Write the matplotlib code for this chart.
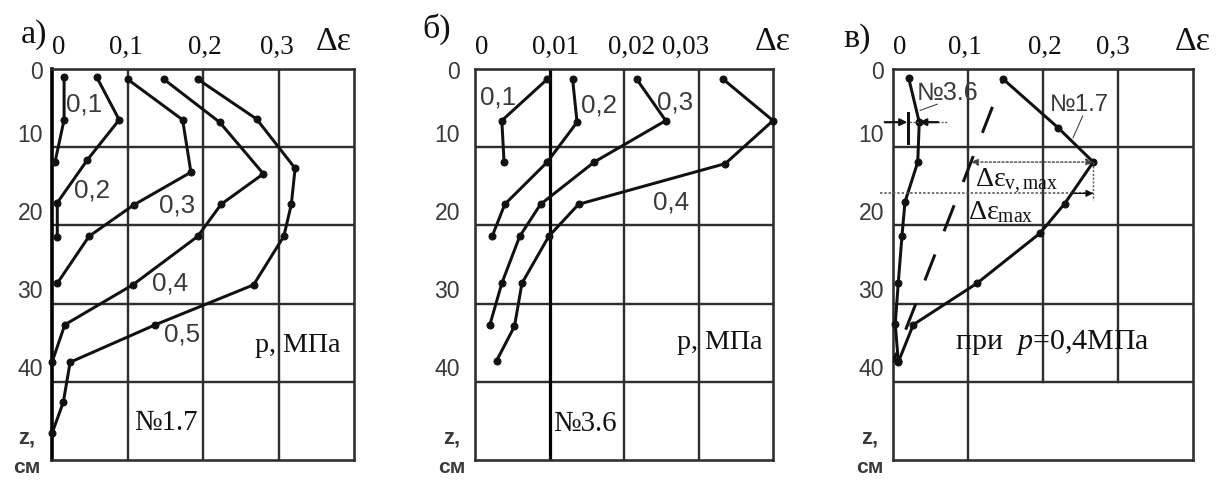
import matplotlib
matplotlib.use("Agg")
import matplotlib.pyplot as plt
from matplotlib.transforms import blended_transform_factory, offset_copy

W, H, DPI = 1222, 484, 72          # at 72 dpi one point equals one pixel
SERIF = ["Liberation Serif", "DejaVu Serif"]
SANS = ["Liberation Sans", "DejaVu Sans"]
INK = "#111111"
GRID = "#2e2e2e"
SOFT = "#3a3a3a"

plt.rcParams["mathtext.fontset"] = "custom"
plt.rcParams["mathtext.rm"] = "Liberation Serif"
plt.rcParams["mathtext.it"] = "Liberation Serif:italic"

# ---------------- common scales ----------------
depth_ticks = [0, 10, 20, 30, 40]
depth_labels = ["0", "10", "20", "30", "40"]

# ---------------- a) specimen №1.7 ----------------
a_xticks = [0, 0.1, 0.2, 0.3]
a_xlabels = ["0", "0,1", "0,2", "0,3"]
a_pressures = ["0,1", "0,2", "0,3", "0,4", "0,5"]
a_z_01 = [1.0, 6.5, 11.9]
a_de_01 = [0.016, 0.016, 0.004]
a_z_02 = [1.0, 6.5, 11.6, 17.1, 21.5]
a_de_02 = [0.059, 0.089, 0.047, 0.007, 0.007]
a_z_03 = [1.3, 6.5, 13.2, 17.4, 21.4, 27.4]
a_de_03 = [0.100, 0.173, 0.184, 0.108, 0.049, 0.007]
a_z_04 = [1.3, 6.8, 13.4, 17.3, 21.4, 27.6, 32.7, 37.5]
a_de_04 = [0.148, 0.222, 0.280, 0.224, 0.193, 0.107, 0.017, 0.0]
a_z_05 = [1.3, 6.4, 12.7, 17.3, 21.4, 27.6, 32.7, 37.5, 42.6, 46.6]
a_de_05 = [0.193, 0.271, 0.322, 0.317, 0.307, 0.267, 0.137, 0.024, 0.015, 0.0]

# ---------------- б) specimen №3.6 ----------------
b_xticks = [0, 0.01, 0.02, 0.03]
b_xlabels = ["0", "0,01", "0,02", "0,03"]
b_pressures = ["0,1", "0,2", "0,3", "0,4"]
b_z_01 = [1.3, 6.6, 11.9]
b_de_01 = [0.0097, 0.0036, 0.0039]
b_z_02 = [1.3, 6.8, 11.9, 17.3, 21.4]
b_de_02 = [0.0131, 0.0137, 0.0097, 0.0040, 0.0023]
b_z_03 = [1.3, 6.6, 11.9, 17.3, 21.4, 27.4, 32.7]
b_de_03 = [0.0217, 0.0256, 0.0160, 0.0088, 0.0060, 0.0036, 0.0020]
b_z_04 = [1.3, 6.6, 12.1, 17.3, 21.4, 27.4, 32.9, 37.3]
b_de_04 = [0.0333, 0.0400, 0.0336, 0.0139, 0.0099, 0.0063, 0.0053, 0.0029]

# ---------------- в) both specimens at p = 0,4 MPa ----------------
c_xticks = [0, 0.1, 0.2, 0.3]
c_xlabels = ["0", "0,1", "0,2", "0,3"]
c_z_17 = [1.3, 7.5, 11.9, 17.2, 21.0, 27.4, 32.7, 37.5]
c_de_17 = [0.147, 0.220, 0.267, 0.229, 0.196, 0.112, 0.027, 0.007]
c_z_36 = [1.2, 6.8, 11.9, 17.0, 21.3, 27.4, 32.6, 37.3]
c_de_36 = [0.021, 0.035, 0.033, 0.016, 0.012, 0.007, 0.003, 0.007]
c_env_z = [1.3, 37.5]
c_env_de = [0.147, 0.0]

fig = plt.figure(figsize=(W / DPI, H / DPI), dpi=DPI)
fig.patch.set_facecolor("white")


def make_axes(left_px, width_px):
    return fig.add_axes([left_px / W, (H - 460) / H, width_px / W, 391 / H])


def shifted(trans, dx=0, dy=0):
    return offset_copy(trans, fig=fig, x=dx, y=dy, units="points")


def frame(ax, xmax, vgrid, stops=None, strong=(), left_strong=False):
    ax.set_xlim(0, xmax)
    ax.set_ylim(50, 0)
    ax.set_xticks([])
    ax.set_yticks([])
    for name, s in ax.spines.items():
        s.set_linewidth(2.6)
        s.set_color(GRID)
        s.set_zorder(2)
    if left_strong:
        ax.spines["left"].set_linewidth(3.6)
        ax.spines["left"].set_color("black")
    for z in depth_ticks[1:]:
        ax.axhline(z, color=GRID, lw=2.4, zorder=1)
    for x in vgrid:
        bottom = stops.get(x, 50) if stops else 50
        if x in strong:
            ax.plot([x, x], [0, bottom], color="black", lw=3.2, zorder=1)
        else:
            ax.plot([x, x], [0, bottom], color=GRID, lw=2.4, zorder=1)


def top_labels(ax, ticks, labels, nudges, de_dx):
    tr = blended_transform_factory(ax.transData, ax.transAxes)
    for v, lab, dx in zip(ticks, labels, nudges):
        ax.text(v, 1.0, lab, transform=shifted(tr, dx, 15), ha="center",
                va="baseline", fontsize=27, family=SERIF, color=INK)
    ax.text(1.0, 1.0, "Δε", transform=shifted(ax.transAxes, de_dx, 19),
            ha="center", va="baseline", fontsize=34, family=SERIF, color=INK)


def depth_labels_left(ax, pad, zlab_dx):
    tr = blended_transform_factory(ax.transAxes, ax.transData)
    for z, lab in zip(depth_ticks, depth_labels):
        dy = -4 if z == 0 else 12
        ax.text(0, z, lab, transform=shifted(tr, pad, dy), ha="right",
                va="center", fontsize=23, family=SANS, color=SOFT)
    ax.text(0, 47.2, "z,", transform=shifted(tr, zlab_dx, 0), ha="center",
            va="center", fontsize=22, family=SANS, color=SOFT,
            fontweight="bold")
    ax.text(0, 51.0, "см", transform=shifted(tr, zlab_dx, 0), ha="center",
            va="center", fontsize=21, family=SANS, color=SOFT,
            fontweight="bold", clip_on=False)


def curve(ax, de, z):
    ax.plot(de, z, "-o", color=INK, lw=3, ms=7, clip_on=False, zorder=4)


# ======================= a) =======================
ax_a = make_axes(52, 302)
frame(ax_a, 0.4, [0.1, 0.2, 0.3], left_strong=True)
top_labels(ax_a, a_xticks, a_xlabels, [7, -2, 2, -2], -20)
depth_labels_left(ax_a, -9, -25)
for de, z in [(a_de_01, a_z_01), (a_de_02, a_z_02), (a_de_03, a_z_03),
              (a_de_04, a_z_04), (a_de_05, a_z_05)]:
    curve(ax_a, de, z)
for lab, (x, z) in zip(a_pressures, [(0.042, 4.6), (0.053, 15.5), (0.165, 17.4),
                                     (0.157, 27.4), (0.172, 34.0)]):
    ax_a.text(x, z, lab, ha="center", va="center", fontsize=26, family=SANS,
              color=SOFT, zorder=5)
ax_a.text(0.326, 35.3, "p, МПа", ha="center", va="center", fontsize=28,
          family=SERIF, color=INK)
ax_a.text(0.151, 45.3, "№1.7", ha="center", va="center", fontsize=29,
          family=SERIF, color=INK)
fig.text(34 / W, 1 - 43 / H, "а)", ha="center", va="baseline", fontsize=34,
         family=SERIF, color=INK)

# ======================= б) =======================
ax_b = make_axes(475, 298)
frame(ax_b, 0.04, [0.01, 0.02, 0.03], strong=(0.01,))
top_labels(ax_b, b_xticks, b_xlabels, [7, 6, 8, -13], 0)
depth_labels_left(ax_b, -15, -23)
for de, z in [(b_de_01, b_z_01), (b_de_02, b_z_02), (b_de_03, b_z_03),
              (b_de_04, b_z_04)]:
    curve(ax_b, de, z)
for lab, (x, z) in zip(b_pressures, [(0.0031, 3.6), (0.0166, 4.7),
                                     (0.0268, 4.3), (0.0263, 17.1)]):
    ax_b.text(x, z, lab, ha="center", va="center", fontsize=26, family=SANS,
              color=SOFT, zorder=5)
ax_b.text(0.0329, 35.0, "p, МПа", ha="center", va="center", fontsize=28,
          family=SERIF, color=INK)
ax_b.text(0.0148, 45.4, "№3.6", ha="center", va="center", fontsize=29,
          family=SERIF, color=INK)
fig.text(437 / W, 1 - 38 / H, "б)", ha="center", va="baseline", fontsize=34,
         family=SERIF, color=INK)

# ======================= в) =======================
ax_c = make_axes(893, 300)
frame(ax_c, 0.4, [0.1, 0.2, 0.3], stops={0.2: 40, 0.3: 40})
top_labels(ax_c, c_xticks, c_xlabels, [7, -3, 2, -5], 0)
depth_labels_left(ax_c, -9, -23)
curve(ax_c, c_de_17, c_z_17)
curve(ax_c, c_de_36, c_z_36)
ax_c.plot(c_env_de, c_env_z, color=INK, lw=3, zorder=3,
          linestyle=(7.7, (9.3, 8.3)))

peak_i = c_de_17.index(max(c_de_17))
peak_de, peak_z = c_de_17[peak_i], c_z_17[peak_i]
env_at_peak = c_env_de[0] + (c_env_de[1] - c_env_de[0]) * (
    (peak_z - c_env_z[0]) / (c_env_z[1] - c_env_z[0]))

# Δε_v,max : from the dashed envelope to the peak of №1.7
ax_c.annotate("", xy=(peak_de, peak_z), xytext=(env_at_peak, peak_z),
              arrowprops=dict(arrowstyle="<|-|>", color="#444444", lw=1.4,
                              linestyle=(0, (1.5, 1.5)), mutation_scale=14,
                              shrinkA=0, shrinkB=0), zorder=5)
ax_c.text(0.109, 15.0, r"$\mathrm{Δε}_{\mathrm{v,max}}$", ha="left",
          va="baseline", fontsize=28, color=INK, zorder=6)

# Δε_max : from the axis to the peak
zmax_line = 15.9
ax_c.plot([-0.017, peak_de], [zmax_line, zmax_line], color="#555555", lw=1.6,
          linestyle=(0, (1.5, 1.2)), clip_on=False, zorder=5)
ax_c.plot([peak_de, peak_de], [peak_z, zmax_line + 0.9], color="#555555",
          lw=1.4, linestyle=(0, (1.5, 1.2)), zorder=5)
ax_c.annotate("", xy=(peak_de, zmax_line), xytext=(peak_de - 0.03, zmax_line),
              arrowprops=dict(arrowstyle="-|>", color=INK, lw=1.4,
                              mutation_scale=14, shrinkA=0, shrinkB=0),
              zorder=5)
ax_c.text(0.1, 19.2, r"$\mathrm{Δε}_{\mathrm{max}}$", ha="left",
          va="baseline", fontsize=28, color=INK, zorder=6)

# increment marker on curve №3.6
zi = c_z_36[1]
ax_c.plot([-0.011, 0.073], [zi, zi], color="#555555", lw=1.3,
          linestyle=(0, (1.5, 1.2)), clip_on=False, zorder=5)
ax_c.annotate("", xy=(0.019, zi), xytext=(-0.011, zi),
              arrowprops=dict(arrowstyle="-|>", color=INK, lw=2.2,
                              mutation_scale=14, shrinkA=0, shrinkB=0),
              annotation_clip=False, zorder=6)
ax_c.annotate("", xy=(c_de_36[1], zi), xytext=(0.060, zi),
              arrowprops=dict(arrowstyle="-|>", color=INK, lw=2.2,
                              mutation_scale=14, shrinkA=0, shrinkB=0),
              zorder=6)
ax_c.plot([0.020, 0.020], [5.6, 9.4], color=INK, lw=3, zorder=6)

# specimen labels with leader lines
ax_c.text(0.031, 3.1, "№3.6", ha="left", va="center", fontsize=25,
          family=SANS, color=SOFT, zorder=6)
ax_c.plot([0.059, 0.036], [4.5, 5.3], color="#333333", lw=1.0, zorder=6)
ax_c.text(0.209, 4.6, "№1.7", ha="left", va="center", fontsize=24,
          family=SANS, color=SOFT, zorder=6)
ax_c.plot([0.253, 0.240], [6.0, 8.8], color="#333333", lw=1.0, zorder=6)

ax_c.text(0.083, 35.0, r"при  $p$=0,4МПа", ha="left", va="center",
          fontsize=30, family=SERIF, color=INK, zorder=6)
fig.text(857 / W, 1 - 47 / H, "в)", ha="center", va="baseline", fontsize=34,
         family=SERIF, color=INK)

fig.savefig("out.png", dpi=DPI, facecolor="white")
